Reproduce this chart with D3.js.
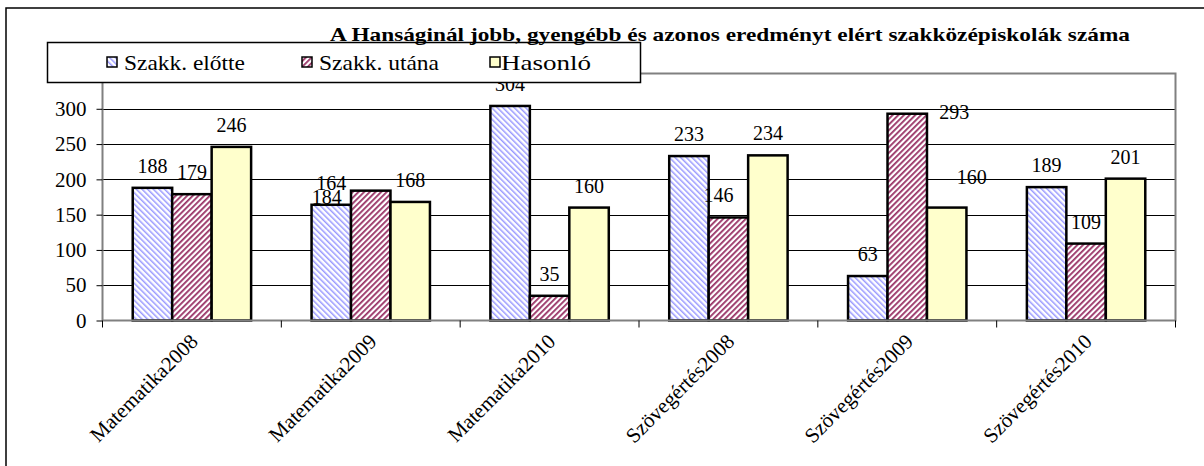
<!DOCTYPE html>
<meta charset="utf-8">
<head>
<style>
  body { margin: 0; background: #fff; }
</style>
</head>
<script src="https://d3js.org/d3.v7.min.js"></script>
<body>
<script>

// data
var categories = ["Matematika2008", "Matematika2009", "Matematika2010",
                  "Szövegértés2008", "Szövegértés2009", "Szövegértés2010"];
var seriesNames = ["Szakk. előtte", "Szakk. utána", "Hasonló"];
var elotte  = [188, 164, 304, 233, 63, 189];
var utana   = [179, 184, 35, 146, 293, 109];
var hasonlo = [246, 168, 160, 234, 160, 201];
var yTicks  = [0, 50, 100, 150, 200, 250, 300];
var title = "A Hanságinál jobb, gyengébb és azonos eredményt elért szakközépiskolák száma";

// a few labels were dragged by hand in the original, series-category : [dx, dy]
var labelNudge = { "1-1": [-44, 28], "1-3": [-10, 0], "1-4": [47, 20], "2-4": [25, -9] };

var SERIF = "'Liberation Serif', 'Times New Roman', serif";
var width = 1204, height = 466;
var pLeft = 102.5, pRight = 1175.5, pTop = 73.5, pBottom = 320.5;

var svg = d3.select("body").append("svg")
    .attr("width", width)
    .attr("height", height)
    .style("font-family", SERIF);

var defs = svg.append("defs");

// hatch patterns
function hatch(id, angle, color, w) {
  var p = defs.append("pattern")
      .attr("id", id)
      .attr("patternUnits", "userSpaceOnUse")
      .attr("width", 4).attr("height", 4)
      .attr("patternTransform", "rotate(" + angle + ")");
  p.append("rect").attr("width", 4).attr("height", 4).attr("fill", "#fff");
  p.append("rect").attr("width", w).attr("height", 4).attr("fill", color);
}
hatch("hBlue", -45, "#9999ff", 1.5);
hatch("hRed", 45, "#993366", 1.8);

var fills = ["url(#hBlue)", "url(#hRed)", "#ffffcc"];
var series = [elotte, utana, hasonlo];

var x0 = d3.scaleBand().domain(categories).range([pLeft, pRight])
    .paddingInner(0.338).paddingOuter(0.169);
var x1 = d3.scaleBand().domain([0, 1, 2]).range([0, x0.bandwidth()]);
var y = d3.scaleLinear().domain([0, 350]).range([pBottom, pTop]);

// outer frame
svg.append("path")
    .attr("d", "M6," + height + "V8H" + width)
    .attr("fill", "none").attr("stroke", "#000").attr("stroke-width", 1.5);

// gridlines
svg.append("g").selectAll("line")
  .data(yTicks.filter(function(d) { return d > 0; }))
  .enter().append("line")
    .attr("x1", pLeft).attr("x2", pRight)
    .attr("y1", function(d) { return Math.round(y(d)) + 0.5; })
    .attr("y2", function(d) { return Math.round(y(d)) + 0.5; })
    .attr("stroke", "#000").attr("stroke-width", 1);

// bars
var groups = svg.append("g").selectAll("g")
  .data(categories)
  .enter().append("g")
    .attr("transform", function(d) { return "translate(" + x0(d) + ",0)"; });

groups.selectAll("rect")
  .data(function(d, i) { return series.map(function(s, k) { return { k: k, v: s[i] }; }); })
  .enter().append("rect")
    .attr("x", function(d) { return x1(d.k); })
    .attr("width", x1.bandwidth())
    .attr("y", function(d) { return y(d.v); })
    .attr("height", function(d) { return pBottom - y(d.v); })
    .attr("fill", function(d) { return fills[d.k]; })
    .attr("stroke", "#000").attr("stroke-width", 2.5);

// plot frame (grey)
svg.append("path")
    .attr("d", "M" + pLeft + "," + pBottom + "V" + pTop + "H" + pRight + "V" + pBottom + "H" + pLeft)
    .attr("fill", "none").attr("stroke", "#808080").attr("stroke-width", 2);

// y axis
var yAxis = svg.append("g")
    .attr("transform", "translate(" + pLeft + ",0)")
    .call(d3.axisLeft(y).tickValues(yTicks).tickSize(6).tickPadding(10));
yAxis.attr("font-family", SERIF).attr("font-size", 21);
yAxis.select(".domain").remove();
yAxis.selectAll("line").attr("stroke", "#000");

// x ticks at category boundaries
svg.append("g").selectAll("line")
  .data(d3.range(categories.length + 1))
  .enter().append("line")
    .attr("x1", function(i) { return pLeft + i * x0.step(); })
    .attr("x2", function(i) { return pLeft + i * x0.step(); })
    .attr("y1", pBottom).attr("y2", pBottom + 7)
    .attr("stroke", "#000");

// x labels
var xAxis = svg.append("g")
    .attr("transform", "translate(0," + pBottom + ")")
    .call(d3.axisBottom(x0).tickSize(0));
xAxis.attr("font-family", SERIF).attr("font-size", 21);
xAxis.select(".domain").remove();
xAxis.selectAll("text")
    .attr("y", 0).attr("dy", "0.35em")
    .attr("transform", "translate(2,17) rotate(-45)")
    .style("text-anchor", "end");

// value labels
var labels = [];
series.forEach(function(s, k) {
  s.forEach(function(v, i) {
    var n = labelNudge[k + "-" + i] || [0, 0];
    labels.push({ v: v, x: x0(categories[i]) + x1(k) + x1.bandwidth() / 2 + n[0], y: y(v) - 15 + n[1] });
  });
});
svg.append("g").selectAll("text")
  .data(labels)
  .enter().append("text")
    .attr("x", function(d) { return d.x; })
    .attr("y", function(d) { return d.y; })
    .attr("text-anchor", "middle")
    .attr("font-size", 20)
    .text(function(d) { return d.v; });

// legend
var legend = svg.append("g");
legend.append("rect")
    .attr("x", 47.5).attr("y", 42.5).attr("width", 593).attr("height", 40)
    .attr("fill", "#fff").attr("stroke", "#000").attr("stroke-width", 1.5);
var legX = [107, 302, 490];
var legTextX = [124, 319, 501];
var legTextW = [121, 120, 90];
seriesNames.forEach(function(name, k) {
  legend.append("rect")
      .attr("x", legX[k]).attr("y", 57).attr("width", 10).attr("height", 10)
      .attr("fill", fills[k]).attr("stroke", "#000").attr("stroke-width", 1.5);
  legend.append("text")
      .attr("x", legTextX[k]).attr("y", 70)
      .attr("textLength", legTextW[k]).attr("lengthAdjust", "spacingAndGlyphs")
      .attr("font-size", 21)
      .text(name);
});

// title
svg.append("text")
    .attr("x", 330).attr("y", 41)
    .attr("textLength", 800).attr("lengthAdjust", "spacingAndGlyphs")
    .attr("font-size", 19).attr("font-weight", "bold")
    .text(title);

</script>
</body>
